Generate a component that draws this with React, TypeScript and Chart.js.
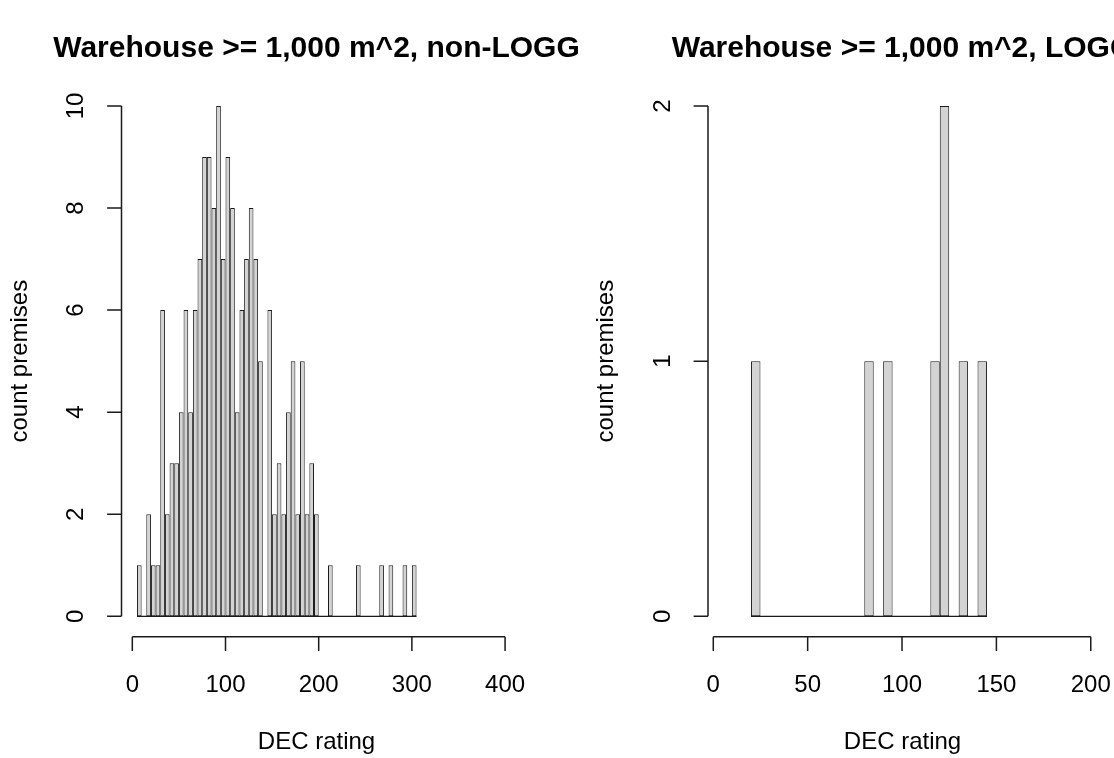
import React, { useEffect, useRef } from "react";
import { Chart, registerables } from "chart.js";

Chart.register(...registerables);

// ---------- data ----------
const binWidth = 5;

const leftTitle = "Warehouse >= 1,000 m^2, non-LOGG";
const leftBreakStart = 5;
const leftCounts = [
  1, 0, 2, 1, 1, 6, 2, 3, 3, 4,
  6, 4, 6, 7, 9, 9, 8, 10, 7, 9,
  8, 4, 6, 7, 8, 7, 5, 0, 6, 2,
  3, 2, 4, 5, 2, 5, 2, 3, 2, 0,
  0, 1, 0, 0, 0, 0, 0, 1, 0, 0,
  0, 0, 1, 0, 1, 0, 0, 1, 0, 1,
];
const leftXTicks = [0, 100, 200, 300, 400];
const leftYTicks = [0, 2, 4, 6, 8, 10];

const rightTitle = "Warehouse >= 1,000 m^2, LOGG";
const rightBreakStart = 20;
const rightCounts = [
  1, 0, 0, 0, 0, 0, 0, 0, 0, 0,
  0, 0, 1, 0, 1, 0, 0, 0, 0, 1,
  2, 0, 1, 0, 1,
];
const rightXTicks = [0, 50, 100, 150, 200];
const rightYTicks = [0, 1, 2];

const xAxisTitle = "DEC rating";
const yAxisTitle = "count premises";

// ---------- style ----------
const FONT = '"Liberation Sans", Arial, Helvetica, sans-serif';
const AXIS_COLOR = "#1a1a1a";
const BAR_FILL = "#d3d3d3";
const BAR_BORDER = "#1a1a1a";
const TICK_LEN = 14.4;

type PanelSpec = {
  title: string;
  start: number;
  counts: number[];
  xTicks: number[];
  yTicks: number[];
  xMin: number;
  xMax: number;
  yMin: number;
  yMax: number;
  padding: { left: number; right: number; top: number; bottom: number };
  width: number;
};

function makeAxesPlugin(spec: PanelSpec) {
  return {
    id: "rAxes",
    afterDatasetsDraw(chart: any) {
      const ctx = chart.ctx;
      const xs = chart.scales.x;
      const ys = chart.scales.y;
      const y0 = ys.getPixelForValue(0);
      const xa = xs.getPixelForValue(spec.start);
      const xb = xs.getPixelForValue(spec.start + spec.counts.length * binWidth);
      ctx.save();
      ctx.strokeStyle = BAR_BORDER;
      ctx.lineWidth = 1.2;
      ctx.beginPath();
      ctx.moveTo(xa, y0);
      ctx.lineTo(xb, y0);
      ctx.stroke();
      ctx.restore();
    },
    afterDraw(chart: any) {
      const ctx = chart.ctx;
      const xs = chart.scales.x;
      const ys = chart.scales.y;
      const area = chart.chartArea;
      ctx.save();
      ctx.strokeStyle = AXIS_COLOR;
      ctx.lineWidth = 1.5;
      // x axis
      const yb = area.bottom;
      const xt0 = xs.getPixelForValue(spec.xTicks[0]);
      const xt1 = xs.getPixelForValue(spec.xTicks[spec.xTicks.length - 1]);
      ctx.beginPath();
      ctx.moveTo(xt0, yb);
      ctx.lineTo(xt1, yb);
      spec.xTicks.forEach((t) => {
        const px = xs.getPixelForValue(t);
        ctx.moveTo(px, yb);
        ctx.lineTo(px, yb + TICK_LEN);
      });
      // y axis
      const xl = area.left;
      const yt0 = ys.getPixelForValue(spec.yTicks[0]);
      const yt1 = ys.getPixelForValue(spec.yTicks[spec.yTicks.length - 1]);
      ctx.moveTo(xl, yt0);
      ctx.lineTo(xl, yt1);
      spec.yTicks.forEach((t) => {
        const py = ys.getPixelForValue(t);
        ctx.moveTo(xl, py);
        ctx.lineTo(xl - TICK_LEN, py);
      });
      ctx.stroke();

      // tick labels
      ctx.fillStyle = "#000";
      ctx.font = `24px ${FONT}`;
      ctx.textAlign = "center";
      ctx.textBaseline = "alphabetic";
      spec.xTicks.forEach((t) => {
        ctx.fillText(String(t), xs.getPixelForValue(t), yb + 55);
      });
      spec.yTicks.forEach((t) => {
        ctx.save();
        ctx.translate(xl - 38.5, ys.getPixelForValue(t));
        ctx.rotate(-Math.PI / 2);
        ctx.fillText(String(t), 0, 0);
        ctx.restore();
      });

      // axis titles
      const cx = (area.left + area.right) / 2;
      const cy = (area.top + area.bottom) / 2;
      ctx.fillText(xAxisTitle, cx, yb + 112);
      ctx.save();
      ctx.translate(xl - 95, cy);
      ctx.rotate(-Math.PI / 2);
      ctx.fillText(yAxisTitle, 0, 0);
      ctx.restore();

      // main title
      ctx.font = `bold 30px ${FONT}`;
      ctx.fillText(spec.title, cx, 56.5);
      ctx.restore();
    },
  };
}

function makeConfig(spec: PanelSpec): any {
  const data = spec.counts.map((c, i) => ({
    x: spec.start + binWidth * (i + 0.5),
    y: c,
  }));
  return {
    type: "bar",
    data: {
      datasets: [
        {
          data,
          backgroundColor: BAR_FILL,
          borderColor: BAR_BORDER,
          borderWidth: 1,
          borderSkipped: false,
          inflateAmount: 0,
          barPercentage: 1,
          categoryPercentage: 1,
          grouped: false,
        },
      ],
    },
    options: {
      responsive: false,
      maintainAspectRatio: false,
      animation: false,
      devicePixelRatio: 1,
      layout: { padding: spec.padding },
      plugins: {
        legend: { display: false },
        title: { display: false },
        tooltip: { enabled: false },
      },
      scales: {
        x: {
          type: "linear",
          min: spec.xMin,
          max: spec.xMax,
          offset: false,
          display: false,
        },
        y: {
          type: "linear",
          min: spec.yMin,
          max: spec.yMax,
          display: false,
        },
      },
    },
    plugins: [makeAxesPlugin(spec)],
  };
}

// left panel: plot region x 121.5 .. 511.5 (0 -> 132.3px, 0.932 px/unit)
const leftSpec: PanelSpec = {
  title: leftTitle,
  start: leftBreakStart,
  counts: leftCounts,
  xTicks: leftXTicks,
  yTicks: leftYTicks,
  xMin: -11.6,
  xMax: 406.9,
  yMin: -0.4,
  yMax: 10.4,
  padding: { left: 121.5, right: 88.5, top: 85.6, bottom: 121.3 },
  width: 600,
};

// right panel: canvas starts at 557; plot region 708 .. 1097 (page px)
const rightSpec: PanelSpec = {
  title: rightTitle,
  start: rightBreakStart,
  counts: rightCounts,
  xTicks: rightXTicks,
  yTicks: rightYTicks,
  xMin: -2.8,
  xMax: 203.3,
  yMin: -0.08,
  yMax: 2.08,
  padding: { left: 151, right: 17, top: 85.6, bottom: 121.3 },
  width: 557,
};

function Panel({ spec, left }: { spec: PanelSpec; left: number }) {
  const ref = useRef<HTMLCanvasElement | null>(null);
  useEffect(() => {
    if (!ref.current) return;
    const chart = new Chart(ref.current, makeConfig(spec));
    return () => chart.destroy();
  }, [spec]);
  return (
    <canvas
      ref={ref}
      width={spec.width}
      height={758}
      style={{
        position: "absolute",
        left,
        top: 0,
        width: spec.width,
        height: 758,
      }}
    />
  );
}

export default function App() {
  return (
    <div
      style={{
        position: "absolute",
        left: 0,
        top: 0,
        width: 1114,
        height: 758,
        overflow: "hidden",
        background: "#ffffff",
      }}
    >
      <Panel spec={leftSpec} left={0} />
      <Panel spec={rightSpec} left={557} />
    </div>
  );
}
